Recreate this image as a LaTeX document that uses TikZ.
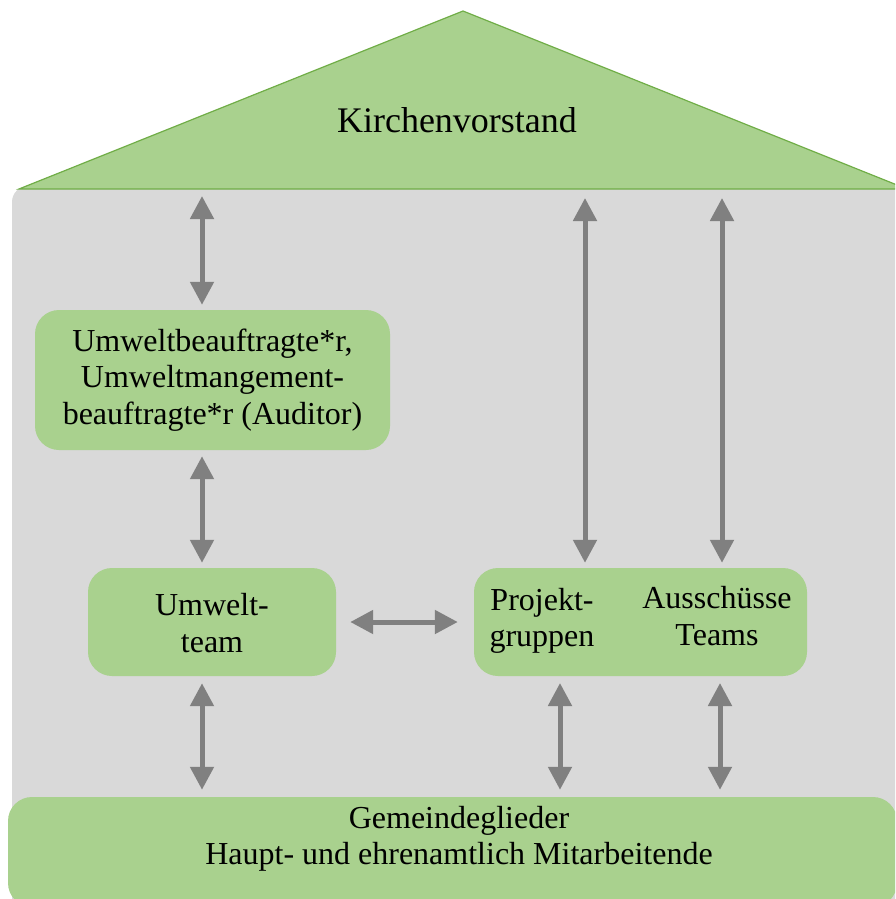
\documentclass[tikz,border=0pt]{standalone}
\usepackage{fontspec}
\setmainfont{Liberation Serif}
\usetikzlibrary{arrows.meta,calc}
\definecolor{lgreen}{RGB}{169,209,142}
\definecolor{dgreen}{RGB}{112,173,71}
\definecolor{bodygrey}{RGB}{217,217,217}
\definecolor{arrgrey}{RGB}{128,128,128}
\tikzset{
  greenbox/.style={fill=lgreen, draw=none, rounded corners=24pt, inner sep=0pt},
  lbl/.style={align=center, font=\fontsize{32}{36.5}\selectfont, inner sep=0pt},
  arr/.style={draw=arrgrey, line width=5pt,
    {Triangle[width=23pt,length=23pt]}-{Triangle[width=23pt,length=23pt]}},
}
\begin{document}
\begin{tikzpicture}[x=1pt,y=-1pt]
\useasboundingbox (0,0) rectangle (895,899);
\begin{scope}
\clip (0,0) rectangle (895,899);
% body
\fill[bodygrey, rounded corners=16pt] (12,960) -- (12,186) -- (960,186) -- (960,960) -- cycle;
% roof
\filldraw[fill=lgreen, draw=dgreen, line width=1.2pt] (19,189) -- (463,11) -- (907,189) -- cycle;
\node[font=\fontsize{36}{40}\selectfont, inner sep=0pt] (kv) at (457,120) {Kirchenvorstand};
% boxes
\node[greenbox, minimum width=355pt, minimum height=140pt] (umb) at (212.5,380) {};
\node[lbl] (umbt) at (umb.center) {Umweltbeauftragte*r,\\Umweltmangement-\\beauftragte*r (Auditor)};
\node[greenbox, minimum width=248pt, minimum height=108pt] (ut) at (212,622) {};
\node[lbl] (utt) at (212,623) {Umwelt-\\team};
\node[greenbox, minimum width=333pt, minimum height=108pt] (pg) at (640.5,622) {};
\node[lbl] (pgt) at (542,621) {Projekt-\\gruppen};
\node[lbl] (aut) at (717,616) {Ausschüsse\\Teams};
\node[greenbox, minimum width=889pt, minimum height=110pt] (gm) at (452.5,852) {};
\node[lbl] (gmt) at (459,839) {Gemeindeglieder\\Haupt- und ehrenamtlich Mitarbeitende};
% arrow ends at the roof base
\coordinate (r1) at (202,196);
\coordinate (r2) at (585,198);
\coordinate (r3) at (722,198);
% arrows
\draw[arr] (r1) -- ([yshift=5pt]umb.north -| r1);
\draw[arr] ([yshift=-6pt]umb.south -| r1) -- ([yshift=5pt]ut.north -| r1);
\draw[arr] ([yshift=-7pt]ut.south -| r1) -- ([yshift=7pt]gm.north -| r1);
\draw[arr] ([xshift=14pt]ut.east) -- ([xshift=-16pt]pg.west);
\draw[arr] (r2) -- ([yshift=5pt]pg.north -| r2);
\draw[arr] (r3) -- ([yshift=5pt]pg.north -| r3);
\coordinate (b1) at (560,683);
\coordinate (b2) at (720,683);
\draw[arr] (b1) -- ([yshift=7pt]gm.north -| b1);
\draw[arr] (b2) -- ([yshift=7pt]gm.north -| b2);
\end{scope}
\end{tikzpicture}
\end{document}
